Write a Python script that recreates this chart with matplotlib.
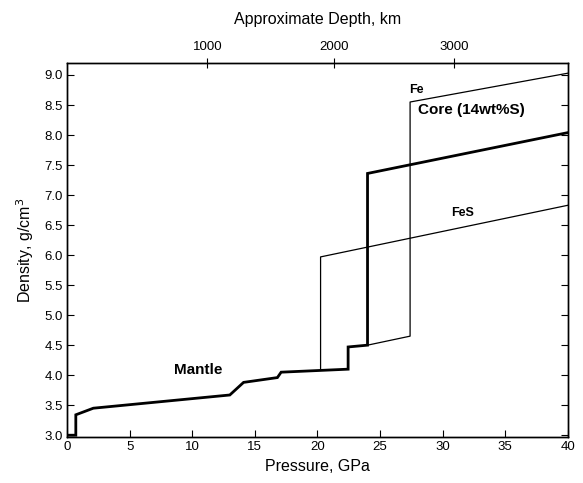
import matplotlib
matplotlib.use("Agg")
import matplotlib.pyplot as plt

plt.rcParams['font.family'] = ['Liberation Sans', 'DejaVu Sans']

# Core / mantle model (thick line)
core_p = [0.0, 0.7, 0.7, 2.1, 13.0, 14.1, 16.8, 17.1, 22.45, 22.45, 24.0, 24.0, 40.0]
core_d = [3.0, 3.0, 3.34, 3.45, 3.67, 3.88, 3.96, 4.05, 4.10, 4.47, 4.50, 7.36, 8.04]

# FeS (thin)
fes_p = [20.25, 20.25, 40.0]
fes_d = [4.08, 5.97, 6.83]

# Fe (thin)
fe_p = [24.0, 27.4, 27.4, 40.0]
fe_d = [4.50, 4.65, 8.55, 9.03]

depth_ticks_p = [11.2, 21.3, 30.9]
depth_labels = ["1000", "2000", "3000"]

x_ticks = [0, 5, 10, 15, 20, 25, 30, 35, 40]
y_ticks = [3.0, 3.5, 4.0, 4.5, 5.0, 5.5, 6.0, 6.5, 7.0, 7.5, 8.0, 8.5, 9.0]

fig = plt.figure(figsize=(5.83, 4.83), dpi=100)
ax = fig.add_axes([0.115, 0.0952, 0.859, 0.7744])

ax.plot(core_p, core_d, color='black', lw=2.0, solid_joinstyle='miter')
ax.plot(fes_p, fes_d, color='black', lw=0.9)
ax.plot(fe_p, fe_d, color='black', lw=0.9)

ax.set_xlim(0, 40)
ax.set_ylim(2.97, 9.2)
ax.set_xticks(x_ticks)
ax.set_xticklabels([str(v) for v in x_ticks])
ax.set_yticks(y_ticks)
ax.set_yticklabels([f"{v:.1f}" for v in y_ticks])
ax.tick_params(direction='in', length=5, labelsize=9.5, right=True, top=False, width=0.8)
ax.tick_params(axis='x', pad=3)
ax.tick_params(axis='y', pad=3)

ax.set_xlabel("Pressure, GPa", fontsize=11.5, labelpad=4)
ax.set_ylabel("Density, g/cm$^3$", fontsize=11.5, labelpad=6)

top = ax.twiny()
top.set_xlim(0, 40)
top.set_xticks(depth_ticks_p)
top.set_xticklabels(depth_labels)
top.tick_params(direction='inout', length=7, labelsize=9.5, pad=4, width=0.8)
top.set_xlabel("Approximate Depth, km", fontsize=11.5, labelpad=12)

for s in list(ax.spines.values()) + list(top.spines.values()):
    s.set_linewidth(1.0)

ax.text(27.9, 8.75, "Fe", fontsize=9, fontweight='bold', ha='center', va='center')
ax.text(32.3, 8.42, "Core (14wt%S)", fontsize=11, fontweight='bold', ha='center', va='center')
ax.text(31.6, 6.70, "FeS", fontsize=9, fontweight='bold', ha='center', va='center')
ax.text(10.5, 4.08, "Mantle", fontsize=11, fontweight='bold', ha='center', va='center')

fig.savefig("out.png", dpi=100)
